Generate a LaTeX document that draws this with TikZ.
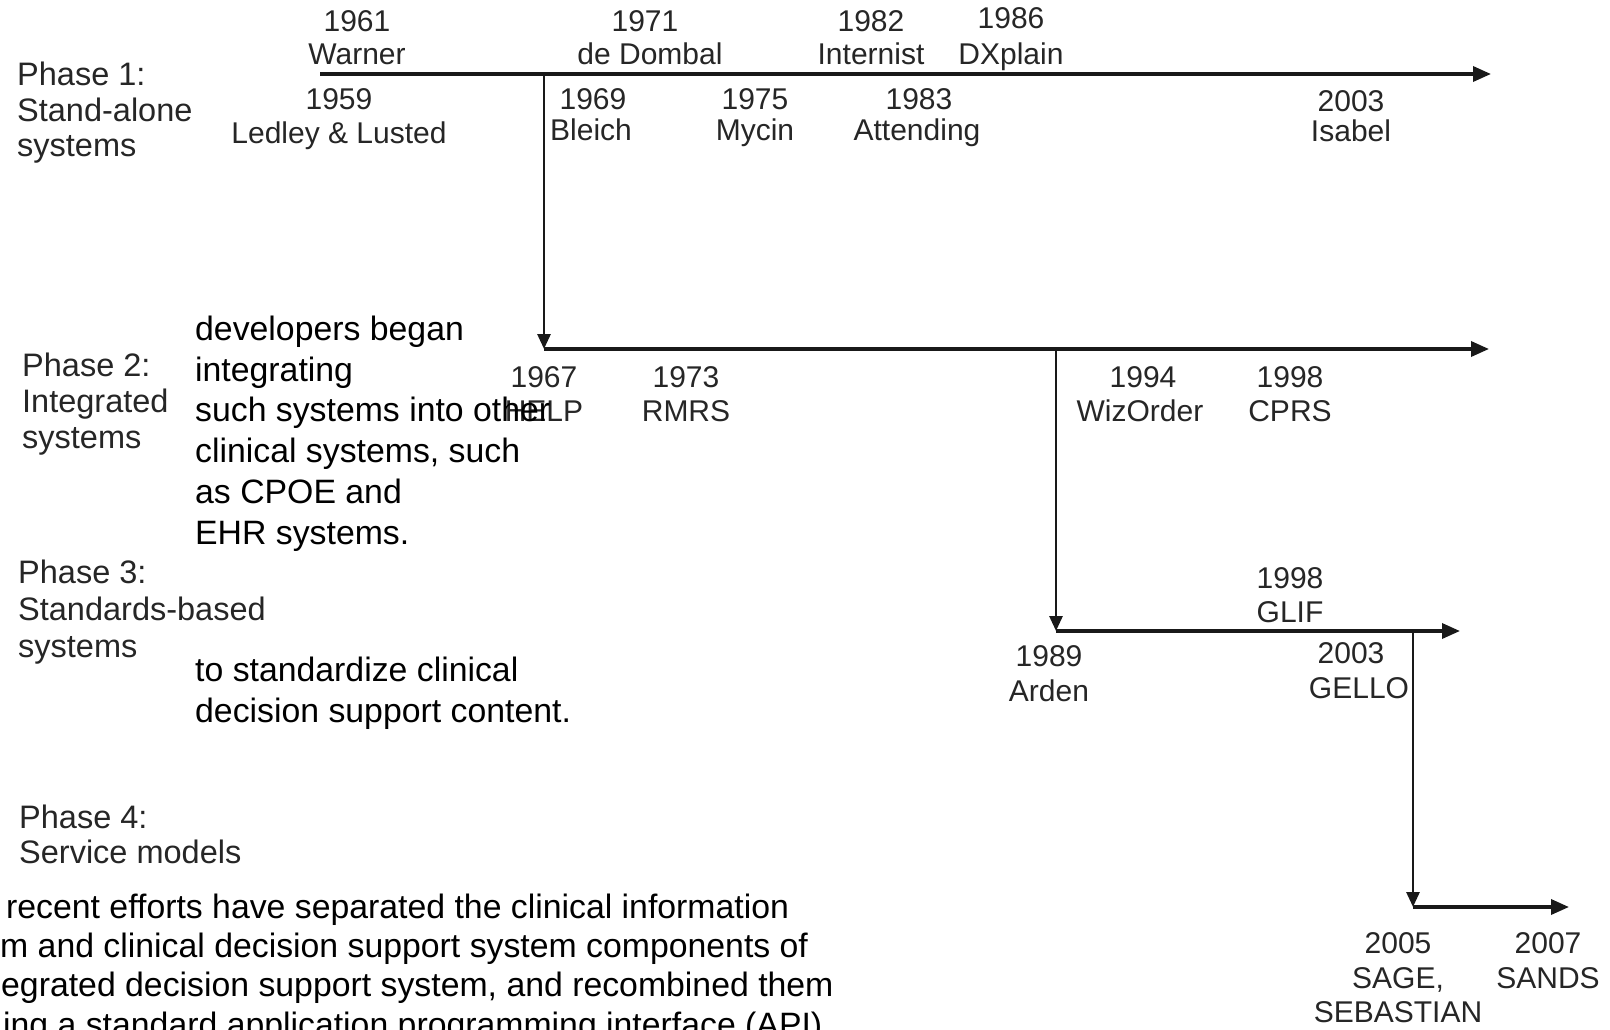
\documentclass[tikz,border=0pt]{standalone}
\usepackage{fontspec}
\setmainfont{Liberation Sans}
\usetikzlibrary{arrows.meta}
\begin{document}
\begin{tikzpicture}[x=1pt,y=-1pt,
  yr/.style={font=\fontsize{30}{34}\selectfont, text=black!85, inner sep=0pt, anchor=base},
  ph/.style={font=\fontsize{32.5}{36}\selectfont, text=black!85, inner sep=0pt, anchor=base west},
  nt/.style={font=\fontsize{33.8}{39}\selectfont, text=black, inner sep=0pt, anchor=base west},
  tline/.style={line width=3.4pt, draw=black!90, -{Triangle[length=18pt,width=15pt]}},
  vline/.style={line width=2.8pt, draw=black!90, -{Triangle[length=15pt,width=13pt]}}]
\useasboundingbox (0,0) rectangle (1610,1030);
\fill[white] (0,0) rectangle (1610,1030);

% timeline coordinates
\coordinate (a1) at (320,74);
\coordinate (a1e) at (1491,74);
\coordinate (b1) at (544,74);
\coordinate (b2) at (544,349);
\coordinate (a2e) at (1489,349);
\coordinate (c1) at (1056,349);
\coordinate (c2) at (1056,631);
\coordinate (a3e) at (1460,631);
\coordinate (d1) at (1413,631);
\coordinate (d2) at (1413,907);
\coordinate (a4e) at (1569,907);

\draw[tline] (a1) -- (a1e);
\draw[vline] (b1) -- (b2);
\draw[tline] (b2) -- (a2e);
\draw[vline] (c1) -- (c2);
\draw[tline] (c2) -- (a3e);
\draw[vline] (d1) -- (d2);
\draw[tline] (d2) -- (a4e);

% phase labels
\node[ph] (p1a) at (17,86) {Phase 1:};
\node[ph] (p1b) at (17,122) {Stand-alone};
\node[ph] (p1c) at (17,157) {systems};
\node[ph] (p2a) at (22,376) {Phase 2:};
\node[ph] (p2b) at (22,412) {Integrated};
\node[ph] (p2c) at (22,448) {systems};
\node[ph] (p3a) at (18,583) {Phase 3:};
\node[ph] (p3b) at (18,620) {Standards-based};
\node[ph] (p3c) at (18,657) {systems};
\node[ph] (p4a) at (19,828) {Phase 4:};
\node[ph] (p4b) at (19,863) {Service models};

% phase 1 labels
\node[yr] (y1961) at (357,32) {1961};
\node[yr] (n1961) at (357,65) {Warner};
\node[yr] (y1971) at (645,32) {1971};
\node[yr] (n1971) at (650,65) {de Dombal};
\node[yr] (y1982) at (871,32) {1982};
\node[yr] (n1982) at (871,65) {Internist};
\node[yr] (y1986) at (1011,29) {1986};
\node[yr] (n1986) at (1011,65) {DXplain};
\node[yr] (y1959) at (339,110) {1959};
\node[yr] (n1959) at (339,144) {Ledley \& Lusted};
\node[yr] (y1969) at (593,110) {1969};
\node[yr] (n1969) at (591,141) {Bleich};
\node[yr] (y1975) at (755,110) {1975};
\node[yr] (n1975) at (755,141) {Mycin};
\node[yr] (y1983) at (919,110) {1983};
\node[yr] (n1983) at (917,141) {Attending};
\node[yr] (y2003a) at (1351,112) {2003};
\node[yr] (n2003a) at (1351,142) {Isabel};

% phase 2 labels
\node[yr] (y1967) at (544,387) {1967};
\node[yr] (n1967) at (544,421) {HELP};
\node[yr] (y1973) at (686,387) {1973};
\node[yr] (n1973) at (686,421) {RMRS};
\node[yr] (y1994) at (1143,387) {1994};
\node[yr] (n1994) at (1140,421) {WizOrder};
\node[yr] (y1998a) at (1290,387) {1998};
\node[yr] (n1998a) at (1290,421) {CPRS};

% phase 3 labels
\node[yr] (y1998b) at (1290,588) {1998};
\node[yr] (n1998b) at (1290,622) {GLIF};
\node[yr] (y1989) at (1049,666) {1989};
\node[yr] (n1989) at (1049,701) {Arden};
\node[yr] (y2003b) at (1351,663) {2003};
\node[yr] (n2003b) at (1359,698) {GELLO};

% phase 4 labels
\node[yr] (y2005) at (1398,953) {2005};
\node[yr] (n2005a) at (1398,988) {SAGE,};
\node[yr] (n2005b) at (1398,1022) {SEBASTIAN};
\node[yr] (y2007) at (1548,953) {2007};
\node[yr] (n2007) at (1548,988) {SANDS};

% overlay notes
\node[nt] (t1) at (195,340) {developers began};
\node[nt] (t2) at (195,381) {integrating};
\node[nt] (t3) at (195,421) {such systems into other};
\node[nt] (t4) at (195,462) {clinical systems, such};
\node[nt] (t5) at (195,503) {as CPOE and};
\node[nt] (t6) at (195,544) {EHR systems.};
\node[nt] (s1) at (195,681) {to standardize clinical};
\node[nt] (s2) at (195,722) {decision support content.};
\node[nt] (r1) at (6,918) {recent efforts have separated the clinical information};
\node[nt] (r2) at (0,957) {m and clinical decision support system components of};
\node[nt] (r3) at (1,996) {egrated decision support system, and recombined them};
\node[nt] (r4) at (3,1036) {ing a standard application programming interface (API)};
\end{tikzpicture}
\end{document}
